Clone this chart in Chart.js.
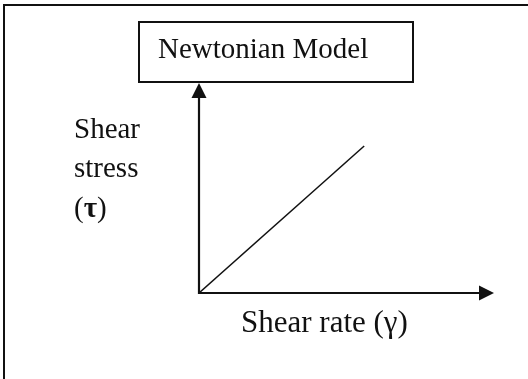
<!DOCTYPE html>
<html>
<head>
<meta charset="utf-8">
<script src="https://cdn.jsdelivr.net/npm/chart.js@4/dist/chart.umd.min.js"></script>
<style>
  html, body { margin: 0; padding: 0; background: #fff; }
  #wrap { position: relative; width: 528px; height: 379px; overflow: hidden; }
  #frame { position: absolute; left: 3px; top: 4px; width: 600px; height: 500px;
           border-left: 2px solid #111; border-top: 2px solid #111; }
  canvas { position: absolute; left: 0; top: 0; }
  .txt { position: absolute; font-family: "Liberation Serif", "Times New Roman", serif;
         color: #111; white-space: nowrap; }
  #titleBox { position: absolute; left: 138px; top: 21px; width: 272px; height: 58px;
              border: 2px solid #111; box-sizing: content-box; }
</style>
</head>
<body>
<div id="wrap">
  <div id="frame"></div>
  <div id="titleBox"></div>
  <canvas id="c" width="528" height="379"></canvas>
  <div class="txt" style="left:158px; top:33.7px; font-size:29px; line-height:29px;">Newtonian Model</div>
  <div class="txt" style="left:74px; top:113.7px; font-size:29px; line-height:29px;">Shear</div>
  <div class="txt" style="left:74px; top:152.7px; font-size:29px; line-height:29px;">stress</div>
  <div class="txt" style="left:74px; top:192.7px; font-size:29px; line-height:29px;">(<b>τ</b>)</div>
  <div class="txt" style="left:241px; top:306px; font-size:31px; line-height:31px;">Shear rate (γ)</div>
</div>
<script>
// Shear rate vs shear stress for a Newtonian fluid: a straight line through the origin
const shearRate = [0, 5.6];
const shearStress = [0, 7.0];
const rateMax = 10;
const stressMax = 10;

// Draws both axes as arrows from the origin to the end of each scale
const arrowAxes = {
  id: 'arrowAxes',
  afterDatasetsDraw(chart) {
    const { ctx, scales: { x, y } } = chart;
    const x0 = x.getPixelForValue(0), x1 = x.getPixelForValue(rateMax);
    const y0 = y.getPixelForValue(0), y1 = y.getPixelForValue(stressMax);
    const head = 15, half = 7.5;
    ctx.save();
    ctx.strokeStyle = '#111';
    ctx.fillStyle = '#111';
    ctx.lineWidth = 2.2;
    // y axis
    ctx.beginPath();
    ctx.moveTo(x0, y0 + 1);
    ctx.lineTo(x0, y1 + head);
    ctx.stroke();
    ctx.beginPath();
    ctx.moveTo(x0, y1);
    ctx.lineTo(x0 - half, y1 + head);
    ctx.lineTo(x0 + half, y1 + head);
    ctx.closePath();
    ctx.fill();
    // x axis
    ctx.beginPath();
    ctx.moveTo(x0 - 1, y0);
    ctx.lineTo(x1 - head, y0);
    ctx.stroke();
    ctx.beginPath();
    ctx.moveTo(x1, y0);
    ctx.lineTo(x1 - head, y0 - half);
    ctx.lineTo(x1 - head, y0 + half);
    ctx.closePath();
    ctx.fill();
    ctx.restore();
  }
};

new Chart(document.getElementById('c'), {
  type: 'scatter',
  data: {
    datasets: [{
      data: shearRate.map((r, i) => ({ x: r, y: shearStress[i] })),
      showLine: true,
      borderColor: '#111',
      borderWidth: 1.5,
      pointRadius: 0,
      fill: false
    }]
  },
  options: {
    responsive: false,
    animation: false,
    layout: { padding: { left: 199, top: 83, right: 34, bottom: 86 } },
    plugins: { legend: { display: false }, tooltip: { enabled: false } },
    scales: {
      x: { type: 'linear', min: 0, max: rateMax, display: false },
      y: { type: 'linear', min: 0, max: stressMax, display: false }
    }
  },
  plugins: [arrowAxes]
});
</script>
</body>
</html>
